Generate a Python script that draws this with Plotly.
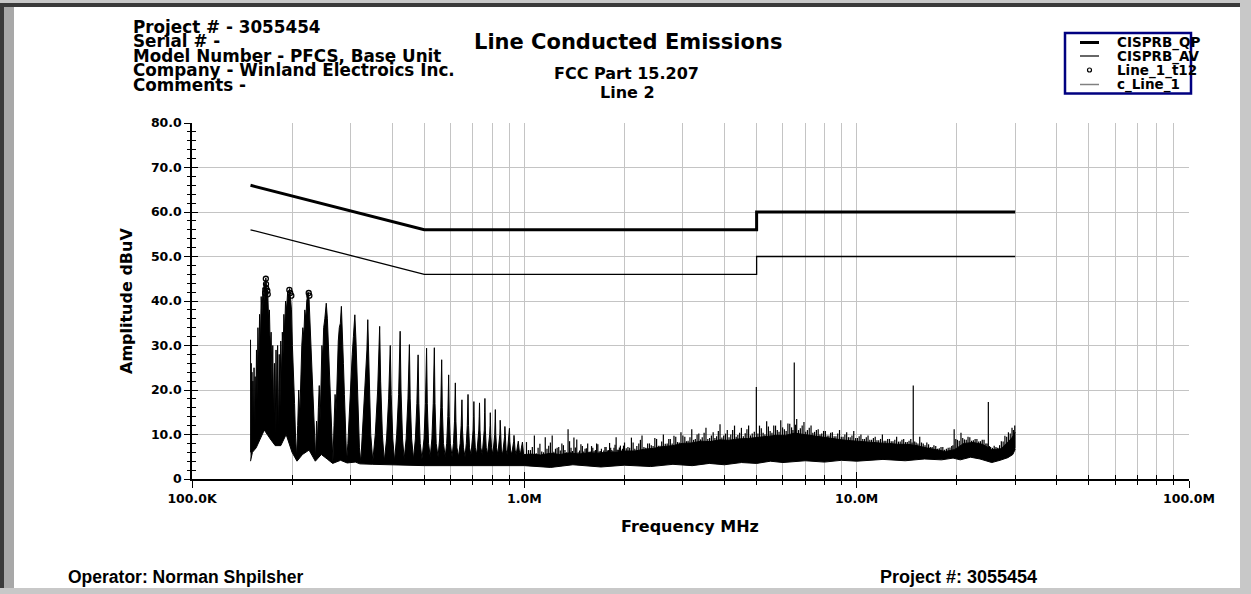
import numpy as np
import plotly.graph_objects as go

# ---------------- data ----------------
qp_freq_mhz = [0.15, 0.5, 5.0, 5.0, 30.0]
qp_dbuv = [66.0, 56.0, 56.0, 60.0, 60.0]
av_freq_mhz = [0.15, 0.5, 5.0, 5.0, 30.0]
av_dbuv = [56.0, 46.0, 46.0, 50.0, 50.0]

# upper edge of the measured trace (Line_1): harmonic comb, then the noise body
upper_freq_mhz = [
    0.1500, 0.1503, 0.1507, 0.1511, 0.1515, 0.1520, 0.1525, 0.1531, 0.1537, 0.1543,
    0.1549, 0.1556, 0.1563, 0.1571, 0.1579, 0.1588, 0.1597, 0.1606, 0.1615, 0.1625,
    0.1635, 0.1645, 0.1655, 0.1662, 0.1668, 0.1678, 0.1690, 0.1700, 0.1710, 0.1720,
    0.1730, 0.1740, 0.1750, 0.1760, 0.1770, 0.1780, 0.1790, 0.1800, 0.1810, 0.1820,
    0.1830, 0.1840, 0.1850, 0.1860, 0.1870, 0.1880, 0.1890, 0.1900, 0.1912, 0.1925,
    0.1940, 0.1955, 0.1965, 0.1978, 0.1992, 0.2005, 0.2020, 0.2035, 0.2050, 0.2065,
    0.2080, 0.2095, 0.2110, 0.2125, 0.2140, 0.2155, 0.2170, 0.2185, 0.2200, 0.2215,
    0.2235, 0.2250, 0.2265, 0.2280, 0.2295, 0.2310, 0.2325, 0.2340, 0.2355, 0.2370,
    0.2385, 0.2400, 0.2415, 0.2430, 0.2445, 0.2460, 0.2475, 0.2490, 0.2510, 0.2535,
    0.2555, 0.2575, 0.2595, 0.2615, 0.2635, 0.2655, 0.2675, 0.2695, 0.2715, 0.2735,
    0.2755, 0.2775, 0.2795, 0.2815, 0.2835, 0.2855, 0.2875, 0.2895, 0.2920, 0.2945,
    0.2970, 0.2990, 0.3010, 0.3035, 0.3060, 0.3090, 0.3115, 0.3140, 0.3165, 0.3190,
    0.3220,
    0.3250, 0.3320, 0.3360, 0.3380, 0.3405, 0.3450, 0.3500,
    0.3560, 0.3620, 0.3650, 0.3670, 0.3695, 0.3740, 0.3790,
    0.3850, 0.3905, 0.3935, 0.3950, 0.3975, 0.4020, 0.4070,
    0.4130, 0.4185, 0.4215, 0.4230, 0.4255, 0.4300, 0.4350,
    0.4410, 0.4465, 0.4495, 0.4510, 0.4535, 0.4580, 0.4640,
    0.4700, 0.4750, 0.4775, 0.4790, 0.4815, 0.4860, 0.4920,
    0.4990, 0.5040, 0.5065, 0.5080, 0.5105, 0.5150, 0.5210,
    0.5270, 0.5320, 0.5345, 0.5360, 0.5385, 0.5430, 0.5500,
    0.5560, 0.5605, 0.5625, 0.5640, 0.5665, 0.5710, 0.5780,
    0.5840, 0.5885, 0.5905, 0.5920, 0.5945, 0.5990, 0.6060,
    0.6120, 0.6165, 0.6185, 0.6200, 0.6225, 0.6270, 0.6340,
    0.6410, 0.6455, 0.6475, 0.6490, 0.6515, 0.6560, 0.6630,
    0.6690, 0.6735, 0.6755, 0.6770, 0.6795, 0.6840, 0.6910,
    0.6970, 0.7015, 0.7035, 0.7050, 0.7075, 0.7120, 0.7190,
    0.7250, 0.7295, 0.7315, 0.7330, 0.7355, 0.7400, 0.7470,
    0.7530, 0.7575, 0.7595, 0.7610, 0.7635, 0.7680, 0.7750,
    0.7820, 0.7865, 0.7885, 0.7900, 0.7925, 0.7970, 0.8040,
    0.8100, 0.8145, 0.8165, 0.8180, 0.8205, 0.8250, 0.8320,
    0.8380, 0.8440, 0.8460, 0.8485, 0.8530, 0.8600,
    0.8660, 0.8720, 0.8740, 0.8765, 0.8810, 0.8880,
    0.8940, 0.9000, 0.9020, 0.9045, 0.9090, 0.9160,
    0.9230, 0.9290, 0.9310, 0.9335, 0.9380, 0.9450,
    0.9510, 0.9590, 0.9650, 0.9730,
    0.9800, 0.9870, 0.9950,
    1.05, 1.12, 1.20, 1.28, 1.37, 1.46, 1.56, 1.67, 1.78, 1.90,
    2.02, 2.15, 2.30, 2.45, 2.62, 2.80, 2.98, 3.18, 3.40, 3.62,
    3.87, 4.13, 4.40, 4.70, 5.02, 5.36, 5.72, 6.10, 6.51, 6.95,
    7.42, 7.92, 8.45, 9.02, 9.63, 10.3, 11.0, 11.7, 12.5, 13.3,
    14.2, 15.2, 16.2, 17.3, 18.5, 19.7, 21.0, 22.4, 23.9, 25.5,
    27.2, 28.4, 29.3, 30.0,
]
upper_dbuv = [
    31.3, 6.0, 26.0, 9.0, 24.0, 8.0, 22.0, 10.0, 25.0, 8.0,
    23.0, 12.0, 29.0, 18.0, 34.0, 24.0, 37.0, 30.0, 41.0, 37.0,
    43.0, 39.0, 44.0, 42.0, 45.2, 43.0, 42.0, 36.0, 38.0, 29.0,
    33.0, 22.0, 30.0, 14.0, 26.0, 10.0, 29.0, 12.0, 30.0, 9.0,
    28.0, 16.0, 31.0, 22.0, 33.0, 28.0, 37.0, 33.0, 40.0, 38.0,
    42.0, 40.5, 42.8, 41.0, 38.0, 30.0, 25.0, 17.0, 9.0, 5.0,
    12.0, 20.0, 14.0, 26.0, 30.0, 34.0, 32.0, 38.0, 36.0, 40.0,
    42.0, 40.5, 35.0, 29.0, 23.0, 19.0, 12.0, 6.0, 4.5, 13.0,
    8.0, 16.0, 21.0, 13.0, 26.0, 30.0, 27.0, 34.0, 36.0, 39.5,
    36.0, 29.0, 22.0, 15.0, 8.0, 3.8, 12.0, 19.0, 15.0, 27.0,
    31.0, 34.0, 35.0, 38.8, 34.0, 26.0, 19.0, 12.0, 4.0, 8.0,
    14.0, 20.0, 24.0, 28.0, 32.0, 36.9, 31.0, 22.0, 14.0, 7.0,
    3.8,
    9.0, 20.0, 29.0, 35.8, 24.0, 10.0, 4.0,
    10.0, 20.0, 28.0, 34.3, 22.0, 10.0, 4.0,
    9.0, 18.0, 25.0, 30.0, 19.0, 9.0, 4.0,
    10.0, 19.0, 27.0, 33.2, 20.0, 9.0, 4.5,
    9.0, 18.0, 25.0, 30.2, 18.0, 9.0, 4.5,
    9.0, 17.0, 23.0, 27.9, 17.0, 8.0, 4.5,
    9.0, 17.0, 24.0, 29.4, 17.0, 8.0, 5.0,
    9.0, 17.0, 24.0, 29.5, 17.0, 8.0, 5.0,
    9.0, 16.0, 22.0, 26.8, 16.0, 8.0, 5.0,
    8.0, 14.0, 19.0, 23.4, 14.0, 8.0, 5.0,
    8.0, 13.0, 18.0, 21.6, 13.0, 7.0, 5.0,
    8.0, 12.0, 15.0, 17.8, 11.0, 7.0, 5.0,
    8.0, 12.0, 16.0, 19.0, 12.0, 7.0, 5.5,
    8.0, 11.0, 14.0, 17.4, 11.0, 7.0, 5.5,
    8.0, 11.0, 14.0, 17.1, 11.0, 7.0, 5.5,
    8.0, 11.0, 15.0, 18.1, 11.0, 7.0, 5.5,
    8.0, 10.0, 12.0, 14.9, 10.0, 7.0, 5.5,
    8.0, 10.0, 13.0, 15.6, 10.0, 7.0, 5.5,
    8.0, 10.0, 13.2, 9.0, 6.5, 5.5,
    7.5, 9.5, 11.8, 8.5, 6.5, 5.5,
    7.5, 9.5, 11.4, 8.5, 6.5, 5.5,
    7.0, 8.5, 9.8, 8.0, 6.5, 5.5,
    7.0, 8.5, 6.5, 5.5,
    7.0, 8.3, 5.5,
    5.6, 5.4, 5.8, 5.5, 5.9, 5.6, 5.9, 5.8, 6.0, 6.0,
    6.3, 6.3, 6.7, 6.9, 7.3, 7.5, 8.0, 8.1, 8.5, 8.4,
    8.8, 8.7, 9.0, 9.1, 9.3, 9.5, 9.8, 9.8, 10.3, 10.0,
    9.7, 9.3, 9.1, 8.8, 8.6, 8.4, 8.2, 8.1, 8.0, 7.8,
    7.8, 7.5, 7.0, 6.6, 6.2, 6.6, 8.0, 8.2, 7.8, 6.6,
    6.8, 8.2, 9.2, 10.5,
]

# lower edge of the measured trace
lower_freq_mhz = [0.150, 0.152, 0.156, 0.160, 0.165, 0.172, 0.178, 0.185, 0.192, 0.200,
                  0.207, 0.215, 0.225, 0.235, 0.245, 0.255, 0.265, 0.280, 0.293, 0.310,
                  0.320, 0.350, 0.400, 0.500, 0.700, 0.900,
                  1.00, 1.20, 1.40, 1.70, 2.00, 2.40, 2.80, 3.20, 3.60, 4.00,
                  4.50, 5.00, 5.50, 6.00, 7.00, 8.00, 9.00, 10.0, 12.0, 14.0,
                  16.0, 18.0, 19.5, 20.5, 22.0, 23.5, 24.5, 25.5, 27.0, 28.5,
                  29.5, 30.0]
lower_dbuv = [4.0, 6.0, 7.0, 9.0, 11.0, 9.0, 7.5, 7.5, 10.0, 6.0,
              4.0, 5.5, 6.5, 4.0, 5.5, 4.5, 3.5, 4.2, 3.6, 3.8,
              3.4, 3.3, 3.2, 3.0, 3.0, 3.0,
              3.0, 2.6, 3.2, 2.7, 3.1, 2.8, 3.3, 3.0, 3.5, 3.2,
              3.7, 3.5, 4.0, 3.7, 4.1, 3.8, 4.2, 4.0, 4.4, 4.1,
              4.5, 4.3, 4.7, 4.3, 4.9, 4.5, 4.0, 3.7, 4.2, 4.8,
              5.5, 6.7]

# narrow spikes riding on the noise body above 1 MHz (taller set)
spike_freq_mhz = [
    1.015, 1.043, 1.072, 1.100, 1.128, 1.156, 1.184, 1.213, 1.241, 1.269,
    1.297, 1.325, 1.354, 1.382, 1.410, 1.438, 1.466, 1.495, 1.523, 1.551,
    1.579, 1.607, 1.636, 1.664, 1.692, 1.720, 1.748, 1.777, 1.805, 1.833,
    1.861, 1.889, 1.918, 1.946, 1.974, 2.002,
    2.05, 2.10, 2.15, 2.21, 2.26, 2.32, 2.38, 2.44, 2.50, 2.56,
    2.62, 2.69, 2.75, 2.82, 2.89, 2.96, 3.04, 3.11, 3.19, 3.27,
    3.35, 3.43, 3.52, 3.61, 3.70, 3.79, 3.88, 3.98, 4.08, 4.18,
    4.29, 4.39, 4.50, 4.62, 4.73, 4.85, 4.99, 5.10, 5.23, 5.36,
    5.49, 5.63, 5.77, 5.91, 6.06, 6.21, 6.37, 6.49, 6.60, 6.77,
    6.94, 7.11, 7.29, 7.47, 7.66, 7.85, 8.05, 8.25, 8.45, 8.66,
    8.88, 9.10, 9.33, 9.56, 9.80, 10.05, 10.30, 10.56, 10.82, 11.09,
    11.37, 11.65, 11.95, 12.24, 12.55, 12.86, 13.19, 13.52, 13.85, 14.20,
    14.55, 14.80, 15.10, 15.48, 15.86, 16.26, 16.66, 17.08, 17.51, 17.94,
    18.39, 18.85, 19.32, 19.65, 20.10, 20.60, 21.10, 21.63, 22.17, 22.72,
    23.29, 23.87, 24.47, 24.90, 25.30, 25.93, 26.58, 27.25, 27.93, 28.62,
    29.34, 29.90,
]
spike_dbuv = [
    8.3, 6.5, 9.8, 7.0, 6.2, 9.4, 7.5, 9.8, 6.8, 7.2,
    8.0, 6.5, 11.2, 7.0, 9.3, 8.9, 6.4, 7.4, 6.8, 8.0,
    6.2, 7.0, 6.5, 7.8, 6.3, 6.0, 7.2, 6.4, 8.1, 6.5,
    7.0, 9.4, 6.6, 7.5, 6.8, 8.2,
    7.2, 9.3, 6.8, 8.0, 9.8, 7.0, 8.0, 7.4, 9.0, 7.5,
    10.0, 8.0, 9.0, 9.7, 8.3, 10.5, 9.5, 8.6, 11.2, 9.0,
    10.2, 9.4, 11.5, 9.2, 10.5, 9.6, 12.3, 9.8, 11.0, 10.0,
    12.0, 9.9, 11.5, 10.3, 12.0, 10.2, 20.7, 12.0, 10.4, 13.0,
    10.8, 12.0, 11.0, 13.2, 11.2, 12.5, 11.6, 26.2, 13.5, 11.4,
    12.8, 11.0, 12.0, 10.6, 11.2, 10.2, 10.8, 9.8, 10.5, 9.6,
    11.0, 9.5, 10.5, 9.4, 10.8, 9.2, 10.0, 9.0, 9.8, 8.8,
    9.5, 8.7, 10.0, 8.6, 9.0, 8.5, 9.5, 8.4, 9.0, 8.3,
    9.0, 21.0, 8.2, 9.5, 8.0, 8.2, 7.2, 7.6, 6.8, 7.2,
    6.6, 7.0, 7.4, 11.2, 8.8, 10.4, 8.9, 9.5, 8.6, 9.0,
    8.4, 8.8, 8.0, 17.3, 7.2, 7.5, 7.0, 8.5, 9.7, 10.5,
    11.5, 12.0,
]

# second, denser set of shorter spikes in between
spike2_freq_mhz = [
    1.029, 1.057, 1.086, 1.114, 1.142, 1.170, 1.198, 1.227, 1.255, 1.283,
    1.311, 1.339, 1.368, 1.396, 1.424, 1.452, 1.480, 1.509, 1.537, 1.565,
    1.593, 1.621, 1.650, 1.678, 1.706, 1.734, 1.762, 1.791, 1.819, 1.847,
    1.875, 1.903, 1.932, 1.960, 1.988, 2.026,
    2.075, 2.125, 2.18, 2.235, 2.29, 2.35, 2.41, 2.47, 2.53, 2.59,
    2.655, 2.72, 2.785, 2.855, 2.925, 3.00, 3.075, 3.15, 3.23, 3.31,
    3.39, 3.475, 3.565, 3.655, 3.745, 3.835, 3.93, 4.03, 4.13, 4.235,
    4.34, 4.445, 4.56, 4.675, 4.79, 4.92,
    5.045, 5.165, 5.295, 5.425, 5.56, 5.70, 5.84, 5.985, 6.135, 6.29,
    6.43, 6.545, 6.685, 6.855, 7.025, 7.20, 7.38, 7.565, 7.755, 7.95,
    8.15, 8.35, 8.555, 8.77, 8.99, 9.215, 9.445, 9.68, 9.925,
    10.175, 10.43, 10.69, 10.955, 11.23, 11.51, 11.80, 12.095, 12.395, 12.705,
    13.025, 13.355, 13.685, 14.025, 14.375, 14.675, 14.95, 15.29, 15.67, 16.06,
    16.46, 16.87, 17.295, 17.725, 18.165, 18.62, 19.085, 19.485, 19.875,
    20.35, 20.85, 21.365, 21.90, 22.445, 23.005, 23.58, 24.17, 24.685, 25.10,
    25.615, 26.255, 26.915, 27.59, 28.275, 28.98, 29.62,
]
spike2_dbuv = [
    6.5, 7.2, 5.8, 7.9, 6.0, 6.8, 8.2, 6.1, 7.0, 6.4,
    7.6, 6.0, 8.5, 6.3, 7.1, 6.0, 7.8, 6.2, 6.9, 6.1,
    7.4, 6.3, 8.0, 6.2, 6.8, 6.4, 7.2, 6.5, 7.0, 6.3,
    7.7, 6.6, 7.1, 6.4, 7.5, 6.9,
    7.0, 8.2, 7.4, 8.8, 7.2, 8.0, 7.6, 9.2, 7.5, 8.4,
    7.9, 9.0, 8.0, 9.5, 8.2, 9.8, 8.5, 9.4, 8.8, 10.0,
    8.9, 10.4, 9.0, 9.8, 9.2, 10.8, 9.3, 10.2, 9.4, 11.0,
    9.5, 10.4, 9.6, 11.2, 9.8, 10.6,
    10.2, 11.4, 10.0, 11.8, 10.4, 12.0, 10.6, 11.6, 10.8, 12.4,
    11.0, 12.2, 11.0, 12.0, 10.6, 11.5, 10.4, 11.0, 10.0, 10.8,
    9.8, 10.4, 9.6, 10.2, 9.5, 10.0, 9.4, 9.8, 9.2,
    9.6, 9.0, 9.4, 8.8, 9.2, 8.7, 9.0, 8.6, 9.0, 8.5,
    8.8, 8.4, 8.8, 8.3, 8.6, 8.2, 8.4, 8.0, 8.2, 7.6,
    7.8, 7.2, 7.4, 6.9, 7.2, 6.8, 7.1, 7.6, 9.0,
    8.6, 9.2, 8.8, 9.4, 8.7, 9.0, 8.5, 8.8, 8.0, 7.4,
    7.0, 7.2, 7.6, 8.4, 9.5, 10.2, 11.0,
]

# Line_1_t12 markers
t12_freq_mhz = [0.1660, 0.1668, 0.1670, 0.1672, 0.1685, 0.1690, 0.1963, 0.1975, 0.1990, 0.2245, 0.2255]
t12_dbuv = [41.8, 45.0, 43.8, 42.9, 42.3, 41.5, 42.5, 41.8, 41.2, 41.8, 41.2]

x_tick_vals = [0.1, 1.0, 10.0, 100.0]
x_tick_text = ["100.0K", "1.0M", "10.0M", "100.0M"]
x_minor_vals = [0.2, 0.3, 0.4, 0.5, 0.6, 0.7, 0.8, 0.9,
                2, 3, 4, 5, 6, 7, 8, 9,
                20, 30, 40, 50, 60, 70, 80, 90]
y_tick_vals = [0, 10, 20, 30, 40, 50, 60, 70, 80]
y_tick_text = ["0", "10.0", "20.0", "30.0", "40.0", "50.0", "60.0", "70.0", "80.0"]

header_lines = ["Project # - 3055454", "Serial # -", "Model Number - PFCS, Base Unit",
                "Company - Winland Electroics Inc.", "Comments -"]
legend_names = ["CISPRB_QP", "CISPRB_AV", "Line_1_t12", "c_Line_1"]

# ---------------- layout geometry ----------------
W, H = 1251, 594
L, R, T, B = 192, 62, 123, 115
PW, PH = W - L - R, H - T - B


def xp(px):
    return (px - L) / PW


def yp(py):
    return (T + PH - py) / PH


BOLD = "DejaVu Sans"
GRID = "#c4c4c4"


def spike_segments(freqs, tops):
    base = np.interp(np.log10(freqs), np.log10(lower_freq_mhz), lower_dbuv) + 0.5
    xs, ys = [], []
    for f, b, t in zip(freqs, base, tops):
        xs += [f, f, None]
        ys += [float(b), t, None]
    return xs, ys


sx1, sy1 = spike_segments(spike_freq_mhz, spike_dbuv)
sx2, sy2 = spike_segments(spike2_freq_mhz, spike2_dbuv)

fig = go.Figure()

fig.add_trace(go.Scatter(x=lower_freq_mhz, y=lower_dbuv, mode="lines",
                         line=dict(color="black", width=1), showlegend=False, hoverinfo="skip"))
fig.add_trace(go.Scatter(x=upper_freq_mhz, y=upper_dbuv, mode="lines", name="c_Line_1",
                         line=dict(color="black", width=1), fill="tonexty", fillcolor="black",
                         showlegend=False))
fig.add_trace(go.Scatter(x=sx1, y=sy1, mode="lines", name="c_Line_1 spikes",
                         line=dict(color="black", width=1.2), showlegend=False, hoverinfo="skip"))
fig.add_trace(go.Scatter(x=sx2, y=sy2, mode="lines", name="c_Line_1 spikes 2",
                         line=dict(color="black", width=1.2), showlegend=False, hoverinfo="skip"))
fig.add_trace(go.Scatter(x=qp_freq_mhz, y=qp_dbuv, mode="lines", name="CISPRB_QP",
                         line=dict(color="black", width=3), showlegend=False))
fig.add_trace(go.Scatter(x=av_freq_mhz, y=av_dbuv, mode="lines", name="CISPRB_AV",
                         line=dict(color="black", width=1.3), showlegend=False))
fig.add_trace(go.Scatter(x=t12_freq_mhz, y=t12_dbuv, mode="markers", name="Line_1_t12",
                         marker=dict(symbol="circle-open", size=5, color="black",
                                     line=dict(width=1.3, color="black")),
                         showlegend=False))
# helper trace so the inside-tick overlay axes are drawn
fig.add_trace(go.Scatter(x=[1.0], y=[40.0], xaxis="x2", yaxis="y2", mode="markers",
                         marker=dict(opacity=0), showlegend=False, hoverinfo="skip"))

tickfont = dict(family=BOLD, size=12.5, color="black", weight=700)

fig.update_layout(
    width=W, height=H,
    margin=dict(l=L, r=R, t=T, b=B, pad=0),
    paper_bgcolor="white", plot_bgcolor="white",
    showlegend=False,
    xaxis=dict(type="log", range=[-1, 2], tickmode="array", tickvals=x_tick_vals,
               ticktext=x_tick_text, ticks="outside", ticklen=7, tickwidth=1.3,
               tickcolor="black", showline=True, linecolor="black", linewidth=1.5,
               showgrid=True, gridcolor=GRID, gridwidth=1.3, zeroline=False,
               tickfont=tickfont,
               minor=dict(tickmode="array", tickvals=x_minor_vals, ticks="outside",
                          ticklen=4, tickwidth=1.2, tickcolor="black",
                          showgrid=True, gridcolor=GRID, gridwidth=1.3)),
    xaxis2=dict(type="log", range=[-1, 2], overlaying="x", anchor="y", side="bottom",
                tickmode="array", tickvals=x_tick_vals, ticks="inside", ticklen=7,
                tickwidth=1.3, tickcolor="black", showticklabels=False, showgrid=False,
                showline=False, zeroline=False,
                minor=dict(tickmode="array", tickvals=x_minor_vals, ticks="inside",
                           ticklen=4, tickwidth=1.2, tickcolor="black", showgrid=False)),
    yaxis=dict(range=[0, 80], tickmode="array", tickvals=y_tick_vals, ticktext=y_tick_text,
               ticks="outside", ticklen=6, tickwidth=1.3, tickcolor="black",
               showline=True, linecolor="black", linewidth=1.5, showgrid=True,
               gridcolor=GRID, gridwidth=1.3, zeroline=False, tickfont=tickfont,
               minor=dict(dtick=2, tick0=0, ticks="outside", ticklen=3, tickwidth=1.2,
                          tickcolor="black", showgrid=False)),
    yaxis2=dict(range=[0, 80], overlaying="y", anchor="x", side="left",
                tickmode="array", tickvals=y_tick_vals, ticks="inside", ticklen=6,
                tickwidth=1.3, tickcolor="black", showticklabels=False, showgrid=False,
                showline=False, zeroline=False,
                minor=dict(dtick=2, tick0=0, ticks="inside", ticklen=4, tickwidth=1.2,
                           tickcolor="black", showgrid=False)),
)

shapes = []
# window frame
shapes.append(dict(type="rect", xref="paper", yref="paper", x0=xp(0), x1=xp(W), y0=yp(0), y1=yp(3),
                   fillcolor="#c8c8c8", line=dict(width=0), layer="above"))
shapes.append(dict(type="rect", xref="paper", yref="paper", x0=xp(0), x1=xp(1240), y0=yp(3), y1=yp(7),
                   fillcolor="#3a3a3a", line=dict(width=0), layer="above"))
shapes.append(dict(type="rect", xref="paper", yref="paper", x0=xp(0), x1=xp(4), y0=yp(3), y1=yp(H),
                   fillcolor="#3a3a3a", line=dict(width=0), layer="above"))
shapes.append(dict(type="rect", xref="paper", yref="paper", x0=xp(4), x1=xp(14), y0=yp(7), y1=yp(H),
                   fillcolor="#a8a8a8", line=dict(width=0), layer="above"))
shapes.append(dict(type="rect", xref="paper", yref="paper", x0=xp(1240), x1=xp(W), y0=yp(3), y1=yp(H),
                   fillcolor="#c8c8c8", line=dict(width=0), layer="above"))
shapes.append(dict(type="rect", xref="paper", yref="paper", x0=xp(0), x1=xp(W), y0=yp(588), y1=yp(H),
                   fillcolor="#c8c8c8", line=dict(width=0), layer="above"))

# custom legend box
shapes.append(dict(type="rect", xref="paper", yref="paper", x0=xp(1065), x1=xp(1191),
                   y0=yp(93.5), y1=yp(33), fillcolor="white",
                   line=dict(color="#000080", width=2.5), layer="above"))
row_y = [42.5, 56, 70, 84.5]
shapes.append(dict(type="line", xref="paper", yref="paper", x0=xp(1080), x1=xp(1099),
                   y0=yp(row_y[0]), y1=yp(row_y[0]), line=dict(color="black", width=3), layer="above"))
shapes.append(dict(type="line", xref="paper", yref="paper", x0=xp(1080), x1=xp(1099),
                   y0=yp(row_y[1]), y1=yp(row_y[1]), line=dict(color="black", width=1.2), layer="above"))
shapes.append(dict(type="circle", xref="paper", yref="paper", x0=xp(1087.5), x1=xp(1091.5),
                   y0=yp(row_y[2] + 2), y1=yp(row_y[2] - 2), line=dict(color="black", width=1.2),
                   fillcolor="white", layer="above"))
shapes.append(dict(type="line", xref="paper", yref="paper", x0=xp(1080), x1=xp(1099),
                   y0=yp(row_y[3]), y1=yp(row_y[3]), line=dict(color="#808080", width=1.5), layer="above"))
fig.update_layout(shapes=shapes)

ann = []
for i, name in enumerate(legend_names):
    ann.append(dict(x=xp(1116), y=yp(row_y[i]), xref="paper", yref="paper", text="<b>%s</b>" % name,
                    showarrow=False, xanchor="left", yanchor="middle", borderpad=0,
                    font=dict(family=BOLD, size=13.5, color="black")))

header_y = [27, 41.5, 56, 70.5, 85]
for i, line in enumerate(header_lines):
    ann.append(dict(x=xp(132), y=yp(header_y[i]), xref="paper", yref="paper", text="<b>%s</b>" % line,
                    showarrow=False, xanchor="left", yanchor="middle", borderpad=0,
                    font=dict(family=BOLD, size=16.8, color="black")))

ann.append(dict(x=xp(628), y=yp(42.5), xref="paper", yref="paper", text="<b>Line Conducted Emissions</b>",
                showarrow=False, xanchor="center", yanchor="middle",
                font=dict(family=BOLD, size=21, color="black")))
ann.append(dict(x=xp(626), y=yp(73), xref="paper", yref="paper", text="<b>FCC Part 15.207</b>",
                showarrow=False, xanchor="center", yanchor="middle",
                font=dict(family=BOLD, size=16, color="black")))
ann.append(dict(x=xp(627), y=yp(93), xref="paper", yref="paper", text="<b>Line 2</b>",
                showarrow=False, xanchor="center", yanchor="middle",
                font=dict(family=BOLD, size=16, color="black")))

ann.append(dict(x=xp(126), y=yp(301), xref="paper", yref="paper", text="<b>Amplitude dBuV</b>",
                showarrow=False, xanchor="center", yanchor="middle", textangle=-90,
                font=dict(family=BOLD, size=16, color="black")))
ann.append(dict(x=xp(690), y=yp(526), xref="paper", yref="paper", text="<b>Frequency MHz</b>",
                showarrow=False, xanchor="center", yanchor="middle",
                font=dict(family=BOLD, size=16, color="black")))

ann.append(dict(x=xp(66), y=yp(577), xref="paper", yref="paper", text="<b>Operator: Norman Shpilsher</b>",
                showarrow=False, xanchor="left", yanchor="middle",
                font=dict(family="Liberation Sans", size=17.5, color="black")))
ann.append(dict(x=xp(878), y=yp(577), xref="paper", yref="paper", text="<b>Project #: 3055454</b>",
                showarrow=False, xanchor="left", yanchor="middle",
                font=dict(family="Liberation Sans", size=18, color="black")))
fig.update_layout(annotations=ann)

fig.write_html("out.html")
